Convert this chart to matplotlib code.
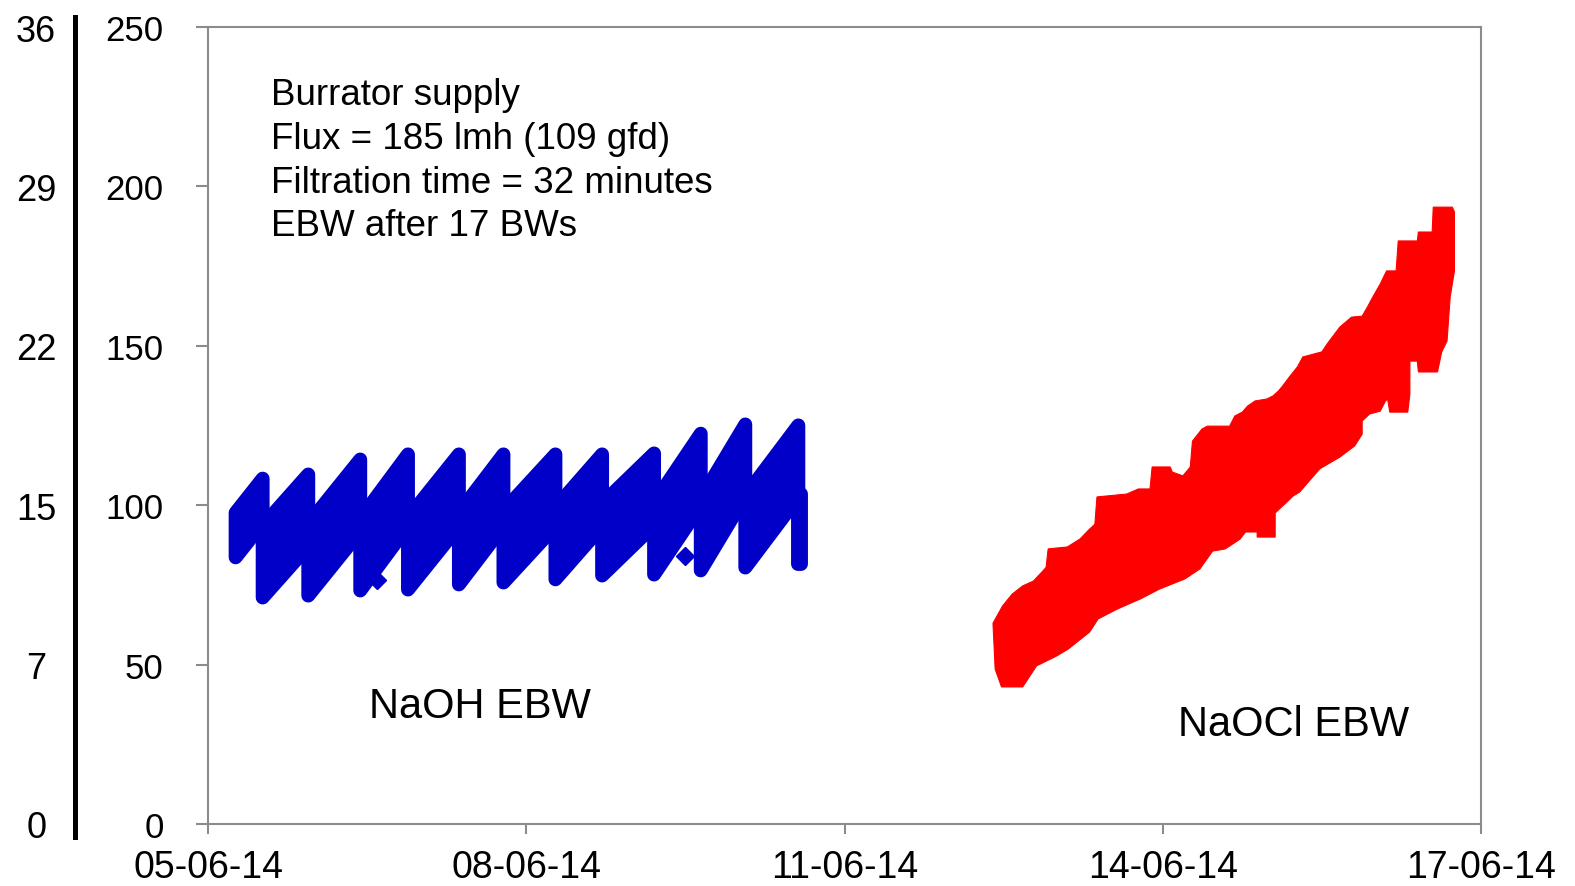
import numpy as np
import matplotlib
matplotlib.use("Agg")
import matplotlib.pyplot as plt

plt.rcParams['font.family'] = ['Liberation Sans', 'DejaVu Sans']

# x axis: days since 05-06-14
date_ticks = [0, 3, 6, 9, 12]
date_labels = ['05-06-14', '08-06-14', '11-06-14', '14-06-14', '17-06-14']
kpa_ticks = [0, 50, 100, 150, 200, 250]
psi_labels = ['0', '7', '15', '22', '29', '36']

# NaOH EBW: one tooth per EBW interval (start/end day, TMP after EBW, TMP before next EBW)
naoh_start = [0.255, 0.51, 0.94, 1.43, 1.88, 2.36, 2.78, 3.27, 3.71, 4.20, 4.64, 5.06, 5.56]
naoh_end = [0.51, 0.94, 1.43, 1.88, 2.36, 2.78, 3.27, 3.71, 4.20, 4.64, 5.06, 5.56, 5.59]
naoh_low = [83.8, 71.2, 71.8, 73.4, 73.7, 75.3, 75.9, 76.9, 78.1, 78.4, 79.7, 80.6, 81.5]
naoh_high = [108.5, 109.8, 114.5, 116.1, 116.1, 116.1, 116.1, 116.1, 116.4, 122.6, 125.5, 125.2, 103.5]
naoh_spread = [14, 22.5, 22.5, 22.5, 22.5, 22.5, 22.5, 22.5, 22.5, 22.5, 22.5, 22.5, 22.0]
naoh_odd_t = [1.59, 4.50]
naoh_odd_p = [76.5, 84.1]

# NaOCl EBW: upper and lower envelope of the TMP band
naocl_up_t = [7.40, 7.49, 7.58, 7.68, 7.78, 7.86, 7.90, 7.92, 8.10, 8.22,
              8.31, 8.36, 8.38, 8.66, 8.77, 8.88, 8.90, 9.07, 9.09, 9.19,
              9.26, 9.28, 9.37, 9.42, 9.63, 9.68, 9.75, 9.80, 9.87, 9.98,
              10.04, 10.09, 10.13, 10.20, 10.27, 10.32, 10.50, 10.55, 10.67, 10.78,
              10.88, 10.93, 10.97, 11.05, 11.11, 11.20, 11.22, 11.40, 11.41, 11.54,
              11.55, 11.73, 11.75]
naocl_up_p = [63.0, 68.4, 72.1, 74.7, 76.2, 79.0, 80.5, 86.3, 86.9, 89.4,
              92.5, 94.0, 102.6, 103.5, 105.1, 105.1, 112.0, 112.0, 110.4, 109.2,
              112.0, 120.1, 123.9, 124.8, 124.8, 128.0, 129.2, 131.1, 132.7, 133.3,
              134.3, 135.8, 137.4, 140.5, 143.4, 146.5, 148.1, 150.6, 155.9, 159.0,
              159.3, 162.2, 164.7, 169.4, 173.5, 173.5, 182.9, 182.9, 185.7, 185.7,
              193.5, 193.5, 192.0]
naocl_lo_t = [7.40, 7.42, 7.48, 7.68, 7.81, 8.00, 8.11, 8.31, 8.39, 8.57,
              8.72, 8.79, 8.97, 9.21, 9.35, 9.47, 9.59, 9.73, 9.78, 9.89,
              9.89, 10.06, 10.06, 10.08, 10.17, 10.23, 10.29, 10.48, 10.67, 10.81,
              10.88, 10.88, 10.95, 11.05, 11.10, 11.12, 11.14, 11.31, 11.33, 11.33,
              11.40, 11.41, 11.59, 11.63, 11.68, 11.71, 11.75, 11.75]
naocl_lo_p = [62.7, 48.6, 43.0, 43.0, 49.6, 52.7, 54.9, 60.2, 64.3, 67.4,
              69.6, 70.6, 73.7, 76.9, 80.0, 85.6, 86.3, 89.4, 91.6, 91.6,
              90.0, 90.0, 97.5, 98.2, 101.0, 102.9, 104.1, 111.4, 115.1, 118.6,
              122.3, 126.4, 128.6, 129.5, 132.7, 133.3, 129.2, 129.2, 134.9, 145.2,
              145.2, 141.8, 141.8, 148.1, 151.5, 165.3, 173.5, 192.0]

blue = '#0000c8'
red = '#ff0000'
grey = '#8c8c8c'

fig = plt.figure(figsize=(15.75, 8.87), dpi=100)
ax = fig.add_axes([0.1321, 0.0699, 0.8082, 0.8985])

# blue saw-tooth band (thick round edge stands in for the big markers)
for t0, t1, lo, hi, sp in zip(naoh_start, naoh_end, naoh_low, naoh_high, naoh_spread):
    ax.fill_between([t0, t1], [lo, hi - sp], [lo + sp, hi], facecolor=blue,
                    edgecolor=blue, linewidth=10, joinstyle='round', zorder=3)
ax.plot(naoh_odd_t, naoh_odd_p, 'D', color=blue, markersize=9, zorder=3)

# red band
ax.fill(naocl_up_t + naocl_lo_t[::-1], naocl_up_p + naocl_lo_p[::-1],
        facecolor=red, edgecolor=red, linewidth=0.8, zorder=3)

ax.set_xlim(0, 12)
ax.set_ylim(0, 250)
ax.set_xticks(date_ticks)
ax.set_xticklabels(date_labels)
ax.set_yticks(kpa_ticks)
for s in ax.spines.values():
    s.set_color(grey)
    s.set_linewidth(1.5)
ax.tick_params(axis='y', direction='out', length=9, width=1.5, color=grey,
               labelsize=25, pad=23)
ax.tick_params(axis='x', direction='out', length=7, width=1.5, color=grey,
               labelsize=27, pad=11)

# secondary psi scale on the far left
ax2 = ax.twinx()
ax2.set_ylim(0, 250)
ax2.yaxis.tick_left()
for name in ['top', 'right', 'bottom']:
    ax2.spines[name].set_visible(False)
ax2.spines['left'].set_position(('axes', -0.1045))
ax2.spines['left'].set_linewidth(3.6)
ax2.spines['left'].set_color('black')
ax2.spines['left'].set_bounds(-4, 253)
ax2.set_yticks(kpa_ticks)
ax2.set_yticklabels(psi_labels)
ax2.tick_params(axis='y', length=0, labelsize=26, pad=28)
for lab in ax2.get_yticklabels():
    lab.set_horizontalalignment('center')

ax.text(0.0495, 0.937,
        'Burrator supply\nFlux = 185 lmh (109 gfd)\nFiltration time = 32 minutes\nEBW after 17 BWs',
        transform=ax.transAxes, fontsize=26.5, va='top', ha='left', linespacing=1.32)
ax.text(2.56, 37.0, 'NaOH EBW', fontsize=30, ha='center', va='center')
ax.text(10.23, 31.4, 'NaOCl EBW', fontsize=30, ha='center', va='center')

fig.savefig('out.png', dpi=100)
